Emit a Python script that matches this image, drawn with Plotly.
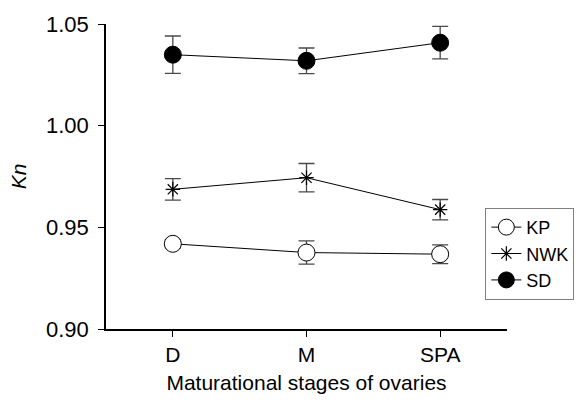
import plotly.graph_objects as go

stages = ["D", "M", "SPA"]
kp = [0.9419, 0.9376, 0.9368]
kp_err = [0.002, 0.0057, 0.0046]
nwk = [0.9687, 0.9744, 0.9587]
nwk_err = [0.0053, 0.0070, 0.0050]
sd = [1.0349, 1.0319, 1.0408]
sd_err = [0.0092, 0.0063, 0.0080]

font = "Liberation Sans, Arial, sans-serif"
errc = "#4a4a4a"

fig = go.Figure()

def add(name, y, e, symbol, fill, size, lw):
    fig.add_trace(go.Scatter(
        x=stages, y=y, name=name, mode="lines+markers",
        line=dict(color="black", width=1),
        marker=dict(symbol=symbol, size=size, color=fill,
                    line=dict(color="black", width=lw)),
        error_y=dict(type="data", array=e, visible=True, color=errc,
                     thickness=1.3, width=8),
    ))

add("KP", kp, kp_err, "circle", "white", 17, 1)
add("NWK", nwk, nwk_err, "asterisk-open", "black", 12, 1.2)
add("SD", sd, sd_err, "circle", "black", 17, 1)

fig.update_layout(
    width=586, height=403,
    margin=dict(l=106, r=72, t=13, b=73),
    paper_bgcolor="white", plot_bgcolor="white",
    font=dict(family=font, size=21, color="black"),
    showlegend=True,
    legend=dict(x=0.946, y=0.397, xanchor="left", yanchor="top",
                bordercolor="#808080", borderwidth=1,
                font=dict(size=18, family=font), tracegroupgap=0,
                itemwidth=30),
    xaxis=dict(
        type="category", range=[-0.5, 2.5],
        showline=True, linecolor="black", linewidth=1.5,
        ticks="outside", ticklen=6, tickwidth=1, tickcolor="black",
        showgrid=False, zeroline=False,
        title=dict(text="Maturational stages of ovaries", standoff=10,
                   font=dict(size=21)),
        tickfont=dict(size=21),
    ),
    yaxis=dict(
        range=[0.90, 1.05], tickvals=[0.90, 0.95, 1.00, 1.05],
        ticktext=["0.90", "0.95", "1.00", "1.05"],
        showline=True, linecolor="black", linewidth=1.5,
        ticks="outside", ticklen=6, tickwidth=1, tickcolor="black",
        showgrid=False, zeroline=False,
        ticklabelstandoff=5,
        title=dict(text="<i>Kn</i>", standoff=14, font=dict(size=21)),
        tickfont=dict(size=22),
    ),
)

fig.write_html("out.html")
